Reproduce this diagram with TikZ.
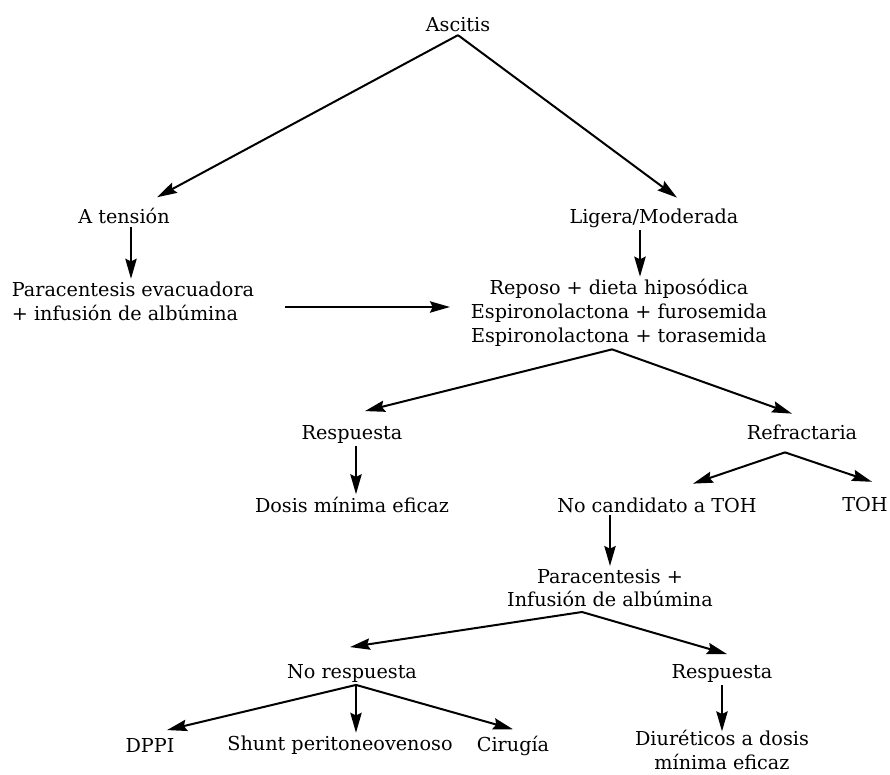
\documentclass[tikz,border=0pt]{standalone}
\usepackage{fontspec}
\setmainfont{DejaVu Serif}
\usetikzlibrary{arrows.meta}
\usetikzlibrary{positioning}

\begin{document}
\begin{tikzpicture}[x=0.75pt, y=-0.75pt,
    every node/.style={font=\fontsize{14.4}{17.8}\selectfont, inner sep=2pt, align=center},
    flecha/.style={-{Stealth[length=15pt, width=8.5pt, inset=2pt]}, line width=1.5pt}]
    \useasboundingbox (0, 0) rectangle (890, 775);

    \node (ascitis) at (458, 25) {Ascitis};
    \node (tension) at (124, 216) {A tensión};
    \node (ligera) at (654, 218) {Ligera/Moderada};
    \node [align=left] (paraev) at (133, 301) {Paracentesis evacuadora\\ + infusión de albúmina};
    \node (reposo) at (619, 313) {Reposo + dieta hiposódica\\ Espironolactona + furosemida\\ Espironolactona + torasemida};
    \node (resp1) at (352, 434) {Respuesta};
    \node (refr) at (802, 432) {Refractaria};
    \node (dosis) at (352, 505) {Dosis mínima eficaz};
    \node (nocand) at (657, 505) {No candidato a TOH};
    \node (toh) at (865, 505) {TOH};
    \node (parainf) at (610, 588) {Paracentesis +\\ Infusión de albúmina};
    \node (noresp) at (352, 673) {No respuesta};
    \node (resp2) at (722, 673) {Respuesta};
    \node (dppi) at (150, 745) {DPPI};
    \node (shunt) at (340, 745) {Shunt peritoneovenoso};
    \node (cirugia) at (513, 746) {Cirugía};
    \node (diur) at (722, 750) {Diuréticos a dosis\\ mínima eficaz};

    % tension / ligera
    \draw [flecha] (ascitis.south) -- ([shift={(33, -8)}]tension.north);
    \draw [flecha] (ascitis.south) -- ([shift={(23, -8)}]ligera.north);
    \draw [flecha] ([shift={(7, 0)}]tension.south) -- ([shift={(7, 0)}]tension.south |- paraev.north);
    \draw [flecha] ([shift={(-14, 0)}]ligera.south) -- ([shift={(-14, 0)}]ligera.south |- reposo.north);
    \draw [flecha] ([shift={(28, 6)}]paraev.east) -- ([shift={(-18, -6)}]reposo.west);

    % tratamiento
    \draw [flecha] ([shift={(-7, 0)}]reposo.south) -- ([shift={(13, -11)}]resp1.north);
    \draw [flecha] ([shift={(-7, 0)}]reposo.south) -- ([shift={(-10, -8)}]refr.north);
    \draw [flecha] ([shift={(4, 0)}]resp1.south) -- ([shift={(4, 0)}]resp1.south |- dosis.north);
    \draw [flecha] ([shift={(-17, 10)}]refr.south) -- ([shift={(36, -11)}]nocand.north);
    \draw [flecha] ([shift={(-17, 10)}]refr.south) -- ([shift={(7, -13)}]toh.north);
    \draw [flecha] (parainf.north |- nocand.south) -- (parainf.north);

    % paracentesis
    \draw [flecha] ([shift={(-28, 2)}]parainf.south) -- ([shift={(-2, -14)}]noresp.north);
    \draw [flecha] ([shift={(-28, 2)}]parainf.south) -- ([shift={(5, -7)}]resp2.north);
    \draw [flecha] ([shift={(4, 0)}]noresp.south) -- ([shift={(17, -5)}]dppi.north);
    \draw [flecha] ([shift={(4, 0)}]noresp.south) -- ([shift={(4, 0)}]noresp.south |- shunt.north);
    \draw [flecha] ([shift={(4, 0)}]noresp.south) -- ([shift={(0, -4)}]cirugia.north);
    \draw [flecha] (resp2.south) -- ([shift={(0, 4)}]resp2.south |- diur.north);
\end{tikzpicture}
\end{document}
